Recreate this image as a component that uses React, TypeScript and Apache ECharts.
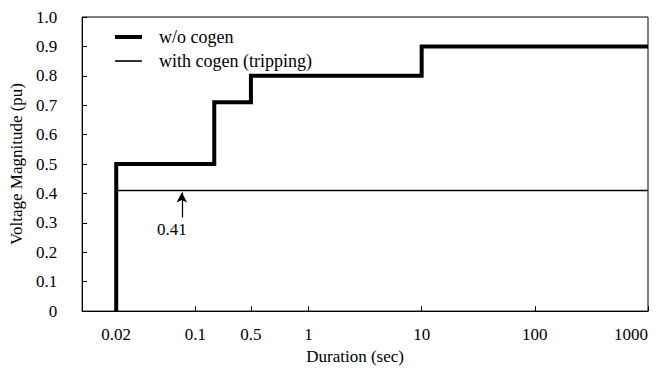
import React, { useEffect, useRef } from "react";
import * as echarts from "echarts";

// Tick positions (on the log duration axis) and their printed labels
const xTickValues = [0.02, 0.1, 0.31, 1, 10, 100, 1000];
const xTickLabels = ["0.02", "0.1", "0.5", "1", "10", "100", "1000"];

// w/o cogen: step curve
const stepStarts = [0.02, 0.147, 0.31, 10];
const stepLevels = [0.5, 0.71, 0.8, 0.9];
const curveEnd = 1000;
const curveBase = 0;

// with cogen (tripping)
const tripStart = 0.02;
const tripEnd = 1000;
const tripLevel = 0.41;

// annotation
const annotX = 0.076;
const annotFrom = 0.318;
const annotTo = 0.403;
const annotLabel = "0.41";

const font = "Liberation Serif";
const fs = 17;

export default function App() {
  const ref = useRef<HTMLDivElement>(null);
  useEffect(() => {
    if (!ref.current) return;
    const chart = echarts.init(ref.current, undefined, { renderer: "svg" });

    const woData: number[][] = [[stepStarts[0], curveBase]];
    for (let i = 0; i < stepStarts.length; i++) {
      const next = i + 1 < stepStarts.length ? stepStarts[i + 1] : curveEnd;
      woData.push([stepStarts[i], stepLevels[i]]);
      woData.push([next, stepLevels[i]]);
    }
    const tripData = [
      [tripStart, tripLevel],
      [tripEnd, tripLevel],
    ];

    const labelFor = (v: number) => {
      const i = xTickValues.findIndex((t) => Math.abs(t - v) / t < 1e-3);
      return i >= 0 ? xTickLabels[i] : "";
    };

    chart.setOption({
      animation: false,
      backgroundColor: "#fff",
      textStyle: { fontFamily: font, color: "#000" },
      grid: {
        left: 82,
        right: 18,
        top: 17,
        bottom: 56,
        show: true,
        borderColor: "#000",
        borderWidth: 1,
      },
      legend: {
        left: 110,
        top: 23,
        orient: "vertical",
        itemGap: 6,
        itemWidth: 27,
        itemHeight: 14,
        textStyle: { fontFamily: font, fontSize: 18, color: "#000", padding: [0, 0, 0, 12] },
        data: [
          { name: "w/o cogen", icon: "path://M0,0H27V4H0Z" },
          { name: "with cogen (tripping)", icon: "path://M0,0H27V1.6H0Z" },
        ],
      },
      xAxis: {
        type: "log",
        min: 0.01,
        max: 1000,
        logBase: 10,
        name: "Duration (sec)",
        nameLocation: "middle",
        nameGap: 33,
        nameTextStyle: { fontFamily: font, fontSize: fs, color: "#000", padding: [0, 20, 0, 0] },
        axisLine: { show: true, lineStyle: { color: "#000", width: 1 } },
        axisTick: { show: true, inside: true, length: 5, customValues: xTickValues, lineStyle: { color: "#000" } },
        axisLabel: {
          customValues: xTickValues,
          formatter: (v: number) => labelFor(v),
          fontFamily: font,
          fontSize: fs,
          color: "#000",
          margin: 15,
          alignMaxLabel: "right",
        },
        splitLine: { show: false },
        minorTick: { show: false },
      },
      yAxis: {
        type: "value",
        min: 0,
        max: 1,
        interval: 0.1,
        name: "Voltage Magnitude (pu)",
        nameLocation: "middle",
        nameGap: 54,
        nameTextStyle: { fontFamily: font, fontSize: fs, color: "#000" },
        axisLine: { show: true, lineStyle: { color: "#000", width: 1 } },
        axisTick: { show: true, inside: true, length: 5, lineStyle: { color: "#000" } },
        axisLabel: {
          fontFamily: font,
          fontSize: fs,
          color: "#000",
          margin: 25,
          formatter: (v: number) => (v === 0 ? "0" : v.toFixed(1)),
        },
        splitLine: { show: false },
      },
      series: [
        {
          name: "w/o cogen",
          type: "line",
          data: woData,
          showSymbol: false,
          symbol: "none",
          color: "#000",
          lineStyle: { color: "#000", width: 4, join: "miter", cap: "butt" },
          z: 3,
        },
        {
          name: "with cogen (tripping)",
          type: "line",
          data: tripData,
          showSymbol: false,
          symbol: "none",
          color: "#000",
          lineStyle: { color: "#000", width: 1.6 },
          z: 2,
          markLine: {
            silent: true,
            symbol: ["none", "arrow"],
            symbolSize: [8, 10],
            lineStyle: { color: "#000", width: 1.2, type: "solid" },
            label: {
              show: true,
              position: "start",
              formatter: annotLabel,
              fontFamily: font,
              fontSize: fs,
              color: "#000",
              distance: 3,
              offset: [-10, 0],
            },
            data: [[{ coord: [annotX, annotFrom] }, { coord: [annotX, annotTo] }]],
          },
        },
      ],
    });
    return () => chart.dispose();
  }, []);
  return <div ref={ref} style={{ position: "absolute", left: 0, top: 0, width: 666, height: 370 }} />;
}
